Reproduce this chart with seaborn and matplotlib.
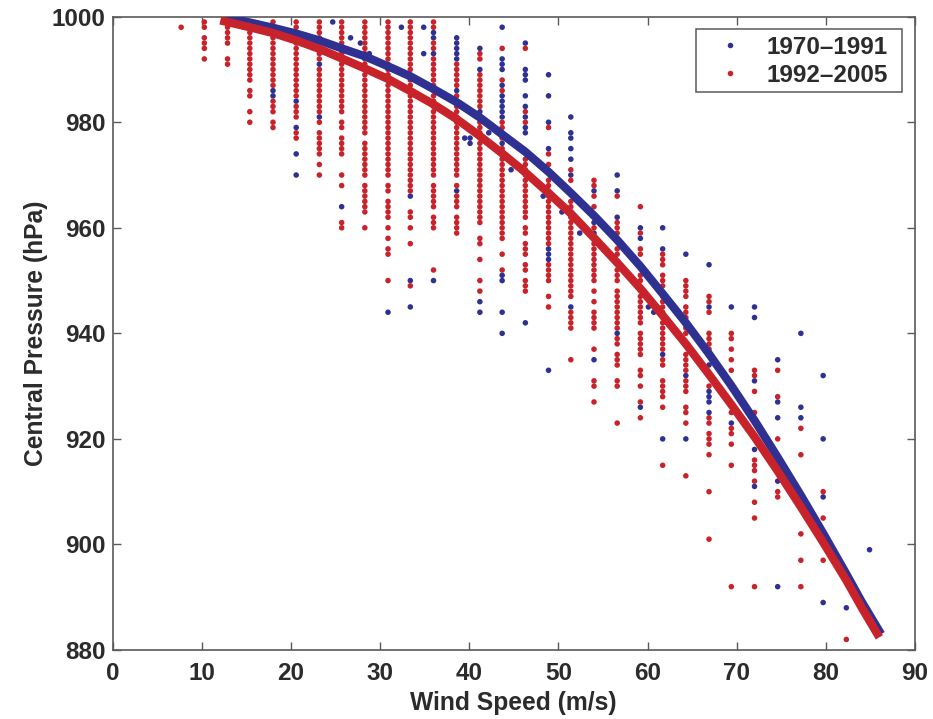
import matplotlib
matplotlib.use('Agg')
import matplotlib.pyplot as plt
from matplotlib.patches import Rectangle
import pandas as pd
import seaborn as sns

# storm reports, one list of pressures per wind speed column
wind_red = [7.7, 10.3, 12.9, 15.4, 18.0, 20.6, 23.2, 25.7, 28.3, 30.9, 33.4, 36.0, 38.6, 41.2, 43.7,
            46.3, 48.9, 51.4, 54.0, 56.6, 59.2, 61.7, 64.3, 66.9, 69.4, 72.0, 74.6, 77.2, 79.7, 82.3]
pressure_red = [
    [998],
    [999, 998, 996, 995, 994, 992],
    [999, 998, 997, 996, 995, 992, 991],
    [999, 998, 997, 996, 995, 994, 993, 992, 991, 990, 989, 988, 986, 985, 982, 980],
    [999, 998, 997, 996, 995, 994, 993, 992, 991, 990, 989, 988, 987, 984, 983, 982, 980, 979],
    [999, 998, 997, 996, 995, 994, 993, 992, 991, 990, 989, 988, 987, 986, 985, 983, 982, 981, 978, 977],
    [999, 998, 997, 996, 995, 994, 993, 992, 990, 989, 988, 987, 986, 985, 984, 983, 982, 980,
     978, 977, 976, 975, 974, 972, 970],
    [999, 998, 997, 996, 995, 994, 993, 992, 991, 990, 989, 988, 987, 986, 985, 984, 983, 982, 980, 979,
     977, 976, 975, 974, 970, 968, 961, 960],
    [999, 998, 997, 996, 995, 994, 993, 992, 991, 990, 989, 988, 987, 986, 985, 984, 983, 982, 981, 980, 979, 978,
     976, 975, 974, 973, 972, 971, 970, 968, 967, 966, 965, 964, 963, 960],
    [999, 998, 997, 996, 995, 994, 993, 992, 991, 990, 989, 988, 987, 986, 985, 984, 983, 982, 981, 980, 979, 978,
     977, 976, 975, 974, 973, 972, 971, 970, 968, 967, 965, 964, 963, 962, 960, 958, 956, 955, 950],
    [999, 998, 997, 996, 995, 994, 993, 992, 991, 990, 989, 988, 987, 986, 985, 984, 983, 982, 981, 980, 979, 978,
     977, 976, 975, 974, 973, 972, 971, 970, 969, 968, 967, 963, 962, 960, 957, 949],
    [999, 998, 995, 994, 992, 991, 990, 989, 988, 987, 986, 985, 984, 983, 982, 981, 980, 979, 978,
     977, 976, 975, 974, 973, 972, 971, 970, 968, 967, 966, 965, 964, 962, 961, 960, 952],
    [991, 990, 989, 988, 987, 985, 984, 983, 982, 981, 980, 979, 978, 977, 976, 975, 974, 973, 972, 971, 970,
     968, 966, 965, 964, 962, 961, 960, 959],
    [993, 992, 989, 988, 987, 986, 985, 984, 983, 981, 980, 979, 978, 977, 976, 975, 974, 973, 972, 971, 970,
     969, 968, 967, 966, 965, 964, 963, 962, 961, 958, 957, 954, 950, 948],
    [994, 988, 986, 980, 979, 978, 977, 975, 974, 973, 972, 971, 970, 969, 968, 967, 966, 965, 964, 963, 962,
     961, 960, 959, 958, 955, 952],
    [994, 982, 980, 973, 972, 971, 970, 969, 968, 967, 966, 965, 964, 963, 962, 960, 959, 957, 956, 955,
     953, 952, 950, 949, 948],
    [979, 974, 972, 969, 968, 967, 966, 965, 964, 963, 962, 961, 960, 959, 958, 957, 953, 952, 951, 950, 947, 945],
    [971, 969, 965, 964, 963, 962, 961, 960, 959, 958, 957, 956, 955, 954, 953, 952, 951, 950, 949, 948, 947,
     944, 943, 942, 941, 935],
    [969, 968, 966, 964, 960, 958, 957, 956, 955, 954, 953, 952, 951, 950, 948, 946, 944, 943, 942, 941,
     937, 931, 930, 927],
    [966, 961, 960, 959, 956, 955, 952, 951, 950, 948, 947, 946, 945, 944, 943, 942, 941, 939, 938,
     936, 935, 934, 931, 930, 923],
    [964, 959, 956, 955, 951, 950, 947, 946, 945, 944, 943, 942, 940, 939, 938, 937, 936, 933, 932, 930, 927, 924],
    [955, 954, 953, 951, 950, 949, 947, 946, 945, 944, 943, 942, 941, 940, 939, 938, 937, 935, 934,
     931, 930, 929, 928, 926, 915],
    [950, 949, 948, 947, 945, 944, 943, 941, 940, 936, 935, 934, 933, 931, 930, 929, 926, 925, 923, 913],
    [947, 946, 944, 940, 939, 938, 937, 930, 924, 923, 921, 920, 919, 917, 910, 901],
    [940, 939, 937, 935, 933, 925, 922, 921, 919, 915, 892],
    [933, 932, 929, 925, 916, 915, 914, 912, 908, 905, 892],
    [933, 928, 920, 910, 909],
    [922, 917, 902, 897, 892],
    [910, 905, 897],
    [882],
]

wind_blue = [18.0, 20.6, 23.2, 24.7, 25.7, 26.7, 27.8, 28.8, 30.9, 32.4, 33.4, 34.9, 36.0, 38.6, 39.5, 40.1,
             41.2, 42.2, 43.7, 44.7, 46.3, 48.3, 48.9, 50.4, 51.4, 52.4, 54.0, 56.6, 59.2, 60.1, 60.7, 61.7,
             64.3, 66.9, 69.4, 72.0, 74.6, 77.2, 79.7, 82.3, 84.9]
pressure_blue = [
    [986, 985],
    [984, 979, 974, 970],
    [991, 981],
    [999],
    [964],
    [996],
    [995],
    [993],
    [944],
    [998],
    [966, 950, 945],
    [998, 993],
    [997, 996, 993, 950],
    [996, 995, 994, 993, 992, 986, 967],
    [977],
    [977, 976],
    [994, 990, 982, 946, 944],
    [978],
    [998, 992, 991, 990, 987, 985, 984, 983, 982, 981, 976, 951, 950, 944, 940],
    [971],
    [995, 990, 989, 988, 985, 983, 981, 979, 978, 942],
    [966],
    [989, 985, 980, 975, 956, 955, 954, 933],
    [963],
    [981, 978, 977, 975, 973, 970, 945],
    [959],
    [967, 961, 959, 935],
    [970, 967, 962, 940],
    [960, 958, 926],
    [945],
    [944],
    [960, 956, 936, 920],
    [955, 932, 920],
    [953, 945, 934, 929, 928, 927, 925],
    [945, 923],
    [945, 943, 931, 918, 911],
    [935, 927, 924, 912, 892],
    [940, 926, 924],
    [932, 920, 909, 889],
    [888],
    [899],
]

# fitted curves traced by eye
curve_wind_blue = [12.5, 15.4, 18.0, 20.6, 23.2, 25.7, 28.3, 30.9, 33.4, 36.0, 38.6, 41.2, 43.7, 46.3, 48.9,
                   51.4, 54.0, 56.6, 59.2, 61.7, 64.3, 66.9, 69.4, 72.0, 74.6, 77.2, 79.7, 82.3, 84.0, 86.2]
curve_pres_blue = [999.9, 998.9, 997.9, 996.8, 995.5, 994.0, 992.5, 990.6, 988.7, 986.3, 983.8, 980.9, 977.7,
                   974.4, 970.6, 966.6, 962.3, 957.7, 952.7, 947.5, 942.0, 936.1, 930.1, 923.5, 916.5, 909.3,
                   902.1, 894.4, 889.2, 883.0]
curve_wind_red = [12.1, 15.4, 18.0, 20.6, 23.2, 25.7, 28.3, 30.9, 33.4, 36.0, 38.6, 41.2, 43.7, 46.3, 48.9,
                  51.4, 54.0, 56.6, 59.2, 61.7, 64.3, 66.9, 69.4, 72.0, 74.6, 77.2, 79.7, 82.3, 84.0, 86.0]
curve_pres_red = [999.3, 998.0, 996.9, 995.5, 993.9, 992.1, 990.2, 988.2, 985.9, 983.4, 980.6, 977.4, 974.1,
                  970.5, 966.6, 962.7, 958.1, 953.4, 948.5, 943.4, 938.0, 932.2, 926.5, 920.4, 913.9, 907.1,
                  900.4, 893.2, 888.1, 882.4]

labels = ['1970\u20131991', '1992\u20132005']
colors = ['#2e3192', '#c8232b']
ink = '#2b2b2b'
frame = '#5a5a5a'

sns.set_theme(style='white')
plt.rcParams['font.family'] = ['Liberation Sans', 'DejaVu Sans']
plt.rcParams['font.weight'] = 'bold'

rows = []
for w, ps in zip(wind_blue, pressure_blue):
    for p in ps:
        rows.append((w, p, labels[0]))
for w, ps in zip(wind_red, pressure_red):
    for p in ps:
        rows.append((w, p, labels[1]))
df = pd.DataFrame(rows, columns=['wind', 'pressure', 'period'])

fig = plt.figure(figsize=(9.33, 7.19), dpi=100)
ax_w, ax_h = 915 - 112.5, 650 - 16.7
ax = fig.add_axes([112.5 / 933, 1 - 650 / 719, ax_w / 933, ax_h / 719])

sns.scatterplot(data=df, x='wind', y='pressure', hue='period', palette=colors, s=16,
                linewidth=0, ax=ax, zorder=2)
sns.lineplot(x=curve_wind_blue, y=curve_pres_blue, color=colors[0], linewidth=6, sort=False,
             estimator=None, solid_capstyle='butt', ax=ax, zorder=3, legend=False)
sns.lineplot(x=curve_wind_red, y=curve_pres_red, color=colors[1], linewidth=6, sort=False,
             estimator=None, solid_capstyle='butt', ax=ax, zorder=4, legend=False)

ax.set_xlim(0, 90)
ax.set_ylim(880, 1000)
ax.set_xticks(range(0, 91, 10))
ax.set_yticks(range(880, 1001, 20))
ax.tick_params(direction='in', length=6, width=1.0, color=frame, top=True, right=True, bottom=True, left=True,
               labelsize=17.5, labelcolor=ink)
ax.tick_params(axis='x', pad=9)
ax.tick_params(axis='y', pad=5)
for s in ax.spines.values():
    s.set_color(frame)
    s.set_linewidth(1.2)

ax.set_xlabel('Wind Speed (m/s)', fontsize=17.7, fontweight='bold', color=ink, labelpad=4)
ax.set_ylabel('Central Pressure (hPa)', fontsize=17.7, fontweight='bold', color=ink, labelpad=3)

# legend box is wider on the right than the legend's own padding allows, so frame it separately
handles, names = ax.get_legend_handles_labels()
leg = ax.legend(handles[:2], names[:2], loc='upper right', bbox_to_anchor=((888 - 112.5) / ax_w, 1 - 19 / ax_h),
                borderaxespad=0, borderpad=0, fontsize=17.5, frameon=False,
                labelspacing=0.2, handletextpad=0.5, title=None)
leg.set_zorder(6)
for t in leg.get_texts():
    t.set_color(ink)
    t.set_fontweight('bold')
ax.add_patch(Rectangle(((696 - 112.5) / ax_w, 1 - (92 - 16.7) / ax_h), (902 - 696) / ax_w, 63 / ax_h,
                       transform=ax.transAxes, facecolor='white', edgecolor=frame, linewidth=1.1, zorder=5))

plt.savefig('out.png', dpi=100)
